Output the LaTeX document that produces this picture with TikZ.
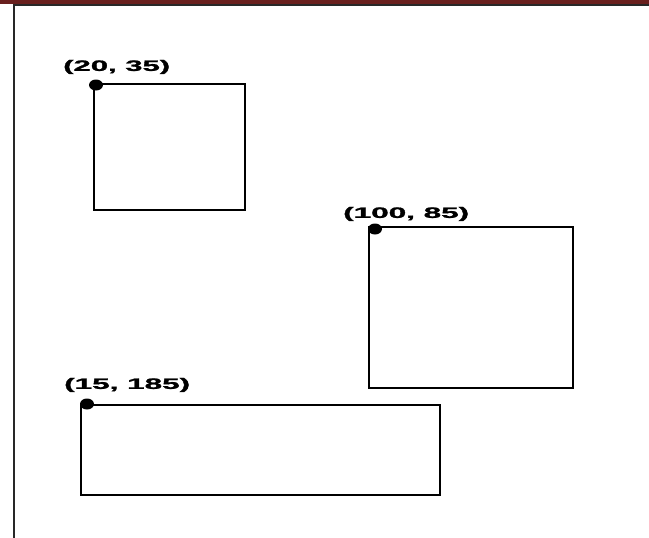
\documentclass[tikz,border=0pt]{standalone}
\usepackage{fontspec}
\setmainfont{Liberation Sans}
\newfontfamily\labelfont[FakeBold=1.2]{Liberation Sans Bold}
\usepackage{graphicx}
\usetikzlibrary{shapes.geometric}
\definecolor{bandred}{RGB}{105,32,30}
\definecolor{framegray}{RGB}{40,40,40}
\tikzset{
  px/.style={x=1pt,y=-1pt},
  rect/.style={draw=black,line width=1.9pt,fill=none,inner sep=0pt},
  anchordot/.style={ellipse,fill=black,inner sep=0pt,minimum width=14pt,minimum height=11pt},
  coordlabel/.style={inner sep=0pt,anchor=west}
}
\newcommand{\cornerlabel}[2]{\resizebox*{#1}{14pt}{\labelfont #2}}
\begin{document}
\begin{tikzpicture}[px]
  \useasboundingbox (0,0) rectangle (649,538);
  % top band and page frame
  \fill[bandred] (0,0) rectangle (649,3.5);
  \draw[framegray,line width=2.4pt] (14,538) -- (14,5) -- (649,5);

  % three rectangles, placed by their top-left corners
  \node[rect,minimum width=151pt,minimum height=126pt,anchor=north west] (boxA) at (93,83) {};
  \node[rect,minimum width=204pt,minimum height=161pt,anchor=north west] (boxB) at (368,226) {};
  \node[rect,minimum width=359pt,minimum height=90pt,anchor=north west] (boxC) at (80,404) {};

  % corner markers
  \node[anchordot] (dotA) at (96,85) {};
  \node[anchordot] (dotB) at (375,229) {};
  \node[anchordot] (dotC) at (87,404) {};

  % corner coordinates
  \node[coordlabel] (labA) at (63,67) {\cornerlabel{107pt}{(20, 35)}};
  \node[coordlabel] (labB) at (343,214) {\cornerlabel{126pt}{(100, 85)}};
  \node[coordlabel] (labC) at (64,385) {\cornerlabel{126pt}{(15, 185)}};
\end{tikzpicture}
\end{document}
